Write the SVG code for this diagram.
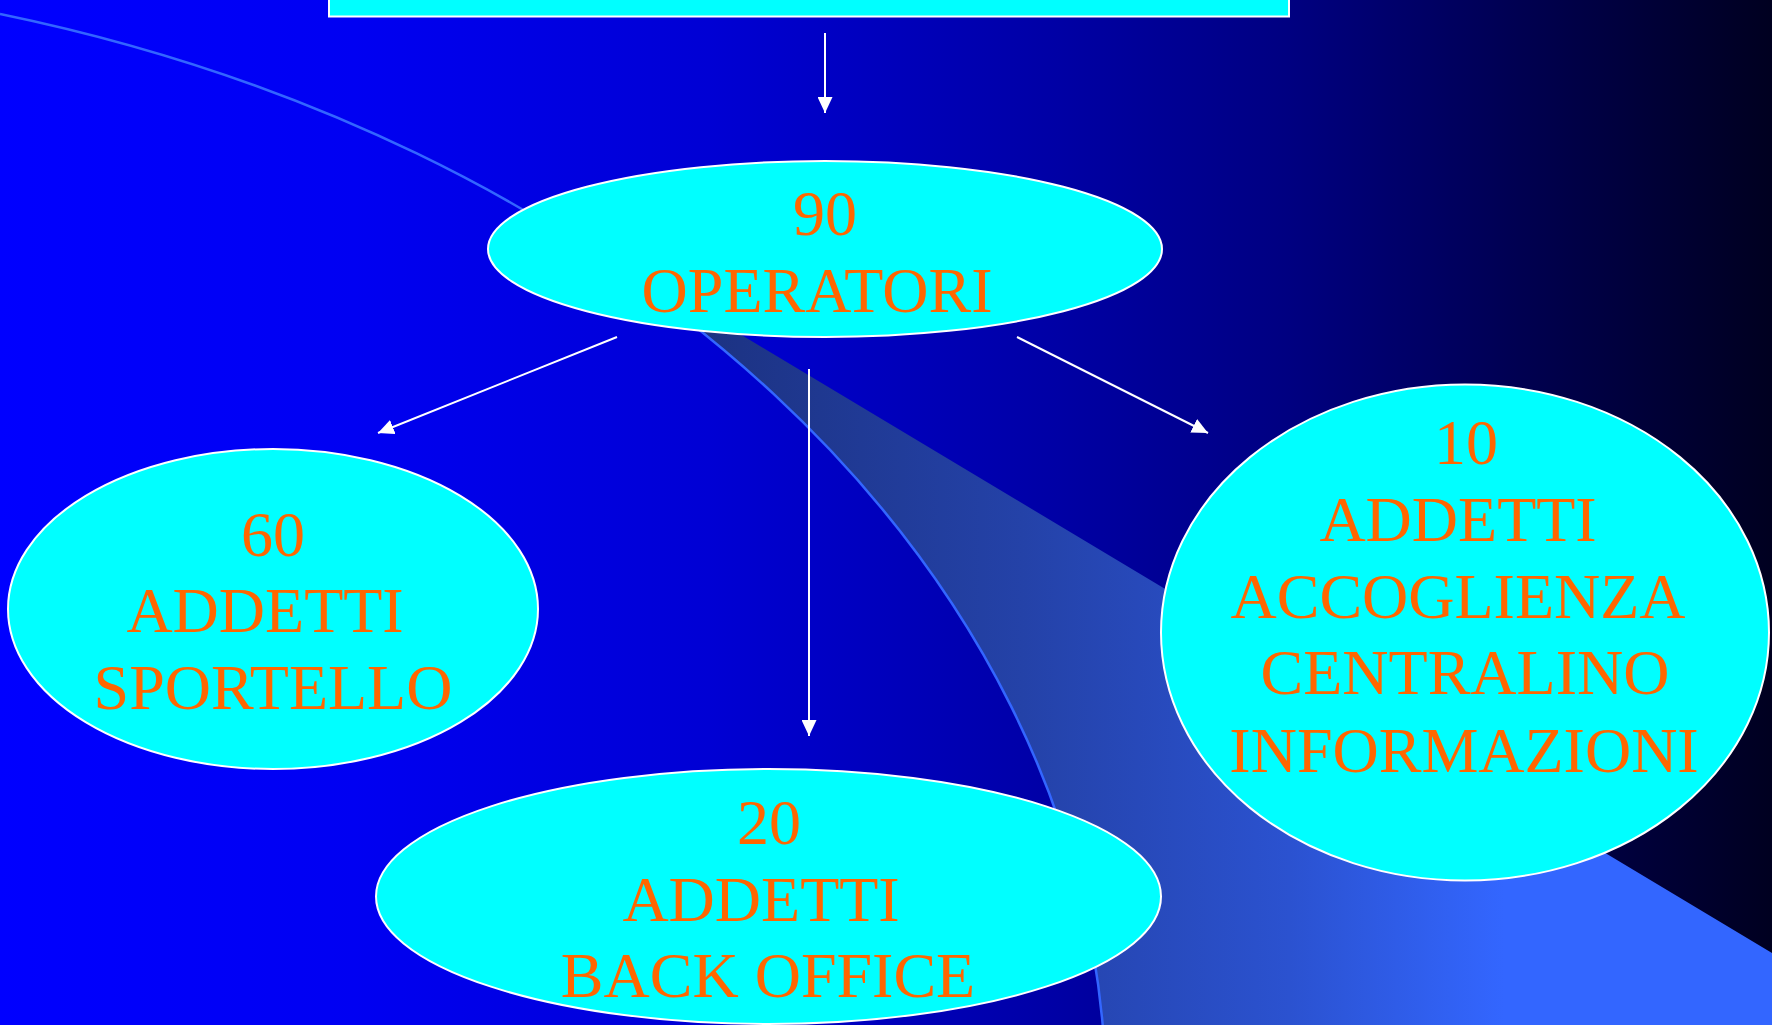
<svg xmlns="http://www.w3.org/2000/svg" width="1772" height="1025" viewBox="0 0 1772 1025">
  <defs>
    <linearGradient id="bg" gradientUnits="userSpaceOnUse" x1="0" y1="0" x2="1772" y2="0">
      <stop offset="0" stop-color="#0000FF"/>
      <stop offset="0.2" stop-color="#0000F2"/>
      <stop offset="0.4" stop-color="#0000D4"/>
      <stop offset="0.6" stop-color="#0000A4"/>
      <stop offset="0.73" stop-color="#000080"/>
      <stop offset="0.86" stop-color="#000050"/>
      <stop offset="1" stop-color="#000020"/>
    </linearGradient>
    <linearGradient id="beam" gradientUnits="userSpaceOnUse" x1="700" y1="0" x2="1772" y2="0">
      <stop offset="0" stop-color="#1C3282"/>
      <stop offset="0.3" stop-color="#2442A8"/>
      <stop offset="0.55" stop-color="#2B52D0"/>
      <stop offset="0.75" stop-color="#3366FF"/>
      <stop offset="1" stop-color="#3366FF"/>
    </linearGradient>
    <marker id="ah" markerUnits="userSpaceOnUse" markerWidth="16" markerHeight="15" refX="16" refY="7.5" orient="auto">
      <path d="M0,0 L16,7.5 L0,15 Z" fill="#FFFFFF"/>
    </marker>
  </defs>
  <style>
    .node { fill: #00FFFF; stroke: #FFFFFF; stroke-width: 2; }
    .lbl { font-family: "Liberation Serif", "Times New Roman", serif; font-size: 64px; fill: #FF6600; text-anchor: middle; }
    .conn { stroke: #FFFFFF; stroke-width: 2; fill: none; marker-end: url(#ah); }
  </style>

  <g id="background">
    <rect x="0" y="0" width="1772" height="1025" fill="url(#bg)"/>
    <path d="M640,274 L1772,953 L1772,1040 L1103.9,1040 A1506 1126.5 0 0 0 640,285.2 Z" fill="url(#beam)"/>
    <path d="M0,13.9 A1506 1126.5 0 0 1 1103.9,1040" fill="none" stroke="#3366FF" stroke-width="2.5"/>
  </g>

  <g id="top-box">
    <rect class="node" x="329" y="-50" width="960" height="66.5"/>
  </g>

  <g id="connectors">
    <line class="conn" x1="825" y1="33" x2="825" y2="113"/>
    <line class="conn" x1="617" y1="337" x2="378" y2="433"/>
    <line class="conn" x1="809" y1="369" x2="809" y2="736"/>
    <line class="conn" x1="1017" y1="337" x2="1208" y2="433"/>
  </g>

  <g id="operatori">
    <ellipse class="node" cx="825" cy="249" rx="337" ry="88"/>
    <text class="lbl" x="825" y="235">90</text>
    <text class="lbl" x="817" y="312">OPERATORI</text>
  </g>

  <g id="sportello">
    <ellipse class="node" cx="273" cy="609" rx="265" ry="160"/>
    <text class="lbl" x="273" y="556">60</text>
    <text class="lbl" x="265" y="632">ADDETTI</text>
    <text class="lbl" x="273" y="709">SPORTELLO</text>
  </g>

  <g id="back-office">
    <ellipse class="node" cx="768.5" cy="896.5" rx="392.5" ry="127.5"/>
    <text class="lbl" x="769" y="844">20</text>
    <text class="lbl" x="761" y="921">ADDETTI</text>
    <text class="lbl" x="768" y="997">BACK OFFICE</text>
  </g>

  <g id="accoglienza">
    <ellipse class="node" cx="1465" cy="632.5" rx="304" ry="248"/>
    <text class="lbl" x="1466" y="464">10</text>
    <text class="lbl" x="1458" y="541">ADDETTI</text>
    <text class="lbl" x="1458" y="618">ACCOGLIENZA</text>
    <text class="lbl" x="1465" y="694">CENTRALINO</text>
    <text class="lbl" x="1464" y="772">INFORMAZIONI</text>
  </g>
</svg>
